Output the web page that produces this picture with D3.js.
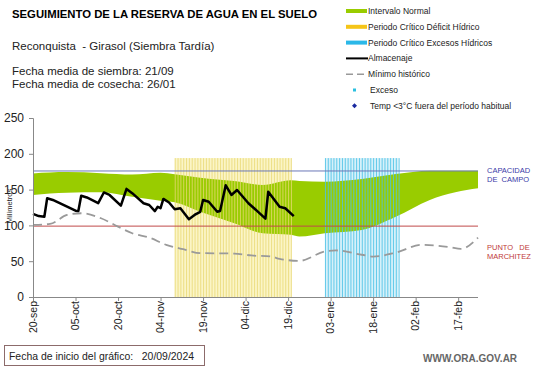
<!DOCTYPE html>
<html>
<head>
<meta charset="utf-8">
<script src="https://cdn.jsdelivr.net/npm/d3@7"></script>
<style>
  body { margin: 0; background: #fff; }
  svg { font-family: "Liberation Sans", Arial, sans-serif; }
  .axis path, .axis line { stroke: #888; }
  .axis text { fill: #222; }
</style>
</head>
<body>
<div id="chart"></div>
<script>
// --- Reserva de agua en el suelo: Reconquista, girasol tardío ---

const normalBand = [ // [fecha, mínimo normal, máximo normal]
  ['2024-09-20', 142.5, 172.6], ['2024-10-02', 145.7, 174.5], ['2024-10-14', 146.2, 173],
  ['2024-10-25', 140, 171], ['2024-11-04', 134.5, 173.5], ['2024-11-09', 132.3, 171.3],
  ['2024-11-18', 119, 166.6], ['2024-11-30', 103, 162], ['2024-12-10', 89, 156.4],
  ['2024-12-20', 87, 163], ['2024-12-23', 84.4, 162], ['2025-01-01', 89, 161],
  ['2025-01-14', 93.7, 164.8], ['2025-01-26', 112, 171.7], ['2025-02-07', 135.5, 176.3],
  ['2025-02-16', 146.2, 176.3], ['2025-02-24', 151.8, 176.3]
];

const minHistorico = [
  ['2024-09-20', 100.7], ['2024-09-26', 102], ['2024-10-02', 114.6], ['2024-10-07', 117],
  ['2024-10-14', 110], ['2024-10-20', 98.3], ['2024-10-25', 89], ['2024-10-31', 83],
  ['2024-11-06', 72.8], ['2024-11-12', 66.8], ['2024-11-18', 61.3], ['2024-11-30', 60.7],
  ['2024-12-06', 58], ['2024-12-13', 56.5], ['2024-12-16', 53.3], ['2024-12-23', 50.5],
  ['2025-01-01', 63.5], ['2025-01-05', 65], ['2025-01-14', 59], ['2025-01-18', 56.5],
  ['2025-01-26', 62], ['2025-02-04', 72.8], ['2025-02-14', 69.6], ['2025-02-18', 67.3],
  ['2025-02-24', 83]
];

const almacenaje = [
  ['2024-09-20', 116], ['2024-09-22', 113], ['2024-09-24', 112], ['2024-09-25', 138],
  ['2024-09-27', 135.5], ['2024-10-05', 120.5], ['2024-10-06', 120], ['2024-10-07', 141.5],
  ['2024-10-09', 139], ['2024-10-13', 131], ['2024-10-15', 146], ['2024-10-17', 142.5],
  ['2024-10-21', 127.6], ['2024-10-23', 151], ['2024-10-25', 145], ['2024-10-29', 131],
  ['2024-10-31', 128.5], ['2024-11-02', 120], ['2024-11-03', 126], ['2024-11-04', 124],
  ['2024-11-05', 137], ['2024-11-07', 132], ['2024-11-09', 122.6], ['2024-11-11', 124],
  ['2024-11-14', 108.6], ['2024-11-16', 114.6], ['2024-11-18', 119], ['2024-11-19', 135.5],
  ['2024-11-21', 133], ['2024-11-24', 119], ['2024-11-25', 120], ['2024-11-27', 156],
  ['2024-11-29', 142.5], ['2024-12-01', 149.4], ['2024-12-05', 131], ['2024-12-07', 124],
  ['2024-12-11', 109.5], ['2024-12-12', 147], ['2024-12-16', 126], ['2024-12-18', 124],
  ['2024-12-21', 113]
];

const capacidadCampo = 176;
const puntoMarchitez = 99;

const periodoDeficit = ['2024-11-09', '2024-12-20'];
const periodoExcesos = ['2025-01-01', '2025-01-27'];
const periodoTope = 194;

const dominio = ['2024-09-20', '2025-02-24'];
const yTicks = [0, 50, 100, 150, 200, 250];
const xTickDates = ['2024-09-20', '2024-10-05', '2024-10-20', '2024-11-04', '2024-11-19',
  '2024-12-04', '2024-12-19', '2025-01-03', '2025-01-18', '2025-02-02', '2025-02-17'];
const xTickLabels = ['20-sep', '05-oct', '20-oct', '04-nov', '19-nov', '04-dic', '19-dic',
  '03-ene', '18-ene', '02-feb', '17-feb'];

const legendItems = [
  { label: 'Intervalo Normal', kind: 'bar', color: '#99cc00' },
  { label: 'Periodo Crítico Déficit Hídrico', kind: 'bar', color: '#f5c518' },
  { label: 'Periodo Crítico Excesos Hídricos', kind: 'bar', color: '#2bb8e8' },
  { label: 'Almacenaje', kind: 'line', color: '#000' },
  { label: 'Mínimo histórico', kind: 'dash', color: '#999' },
  { label: 'Exceso', kind: 'dot', color: '#2bc0e0' },
  { label: 'Temp <3°C fuera del período habitual', kind: 'diamond', color: '#1a2aa0' }
];

const parse = d3.timeParse('%Y-%m-%d');
const W = 541, H = 368;

const svg = d3.select('#chart').append('svg')
  .attr('width', W).attr('height', H);

const xScale = d3.scaleTime().domain(dominio.map(parse)).range([33, 478]);
const yScale = d3.scaleLinear().domain([0, 250]).range([297, 118]);

// critical periods: pale fill behind, daily stripes drawn over the green band
function periodFill(range, fill) {
  const x0 = xScale(parse(range[0])), x1 = xScale(parse(range[1]));
  svg.append('rect')
    .attr('x', x0).attr('y', yScale(periodoTope))
    .attr('width', x1 - x0).attr('height', yScale(0) - yScale(periodoTope))
    .attr('fill', fill);
}
function periodStripes(range, line, opacity) {
  const start = parse(range[0]), end = parse(range[1]);
  const days = d3.timeDay.range(start, d3.timeDay.offset(end, 1));
  svg.append('g').selectAll('line').data(days).join('line')
    .attr('x1', d => xScale(d) + 0.5).attr('x2', d => xScale(d) + 0.5)
    .attr('y1', yScale(periodoTope)).attr('y2', yScale(0))
    .attr('stroke', line).attr('stroke-width', 1).attr('stroke-opacity', opacity);
}
periodFill(periodoDeficit, '#fbf5c6');
periodFill(periodoExcesos, '#d6f1fa');

// green normal interval
const area = d3.area()
  .x(d => xScale(parse(d[0])))
  .y0(d => yScale(d[1]))
  .y1(d => yScale(d[2]))
  .curve(d3.curveMonotoneX);

svg.append('path')
  .datum(normalBand)
  .attr('d', area)
  .attr('fill', '#99cc00');

periodStripes(periodoDeficit, '#e8d874', 0.8);
periodStripes(periodoExcesos, '#4cc2e6', 0.85);

// reference lines
svg.append('line')
  .attr('x1', 33).attr('x2', 478)
  .attr('y1', yScale(capacidadCampo)).attr('y2', yScale(capacidadCampo))
  .attr('stroke', '#6a78b8').attr('stroke-width', 1);
svg.append('line')
  .attr('x1', 33).attr('x2', 478)
  .attr('y1', yScale(puntoMarchitez)).attr('y2', yScale(puntoMarchitez))
  .attr('stroke', '#c04a4a').attr('stroke-width', 1);

// historical minimum
const lineMin = d3.line()
  .x(d => xScale(parse(d[0])))
  .y(d => yScale(d[1]))
  .curve(d3.curveMonotoneX);
svg.append('path')
  .datum(minHistorico)
  .attr('d', lineMin)
  .attr('fill', 'none')
  .attr('stroke', '#9a9a9a').attr('stroke-width', 1.8)
  .attr('stroke-dasharray', '9,5');

// storage
const lineAlm = d3.line()
  .x(d => xScale(parse(d[0])))
  .y(d => yScale(d[1]));
svg.append('path')
  .datum(almacenaje)
  .attr('d', lineAlm)
  .attr('fill', 'none')
  .attr('stroke', '#000').attr('stroke-width', 2.5)
  .attr('stroke-linejoin', 'round');

// axes
const yAxis = svg.append('g')
  .attr('class', 'axis')
  .attr('transform', 'translate(33,0)')
  .call(d3.axisLeft(yScale).tickValues(yTicks).tickSize(4).tickPadding(5));
yAxis.selectAll('text').attr('font-size', 12);

const xAxis = svg.append('g')
  .attr('class', 'axis')
  .attr('transform', 'translate(0,297)')
  .call(d3.axisBottom(xScale).tickValues(xTickDates.map(parse)).tickSize(4).tickFormat(''));
xAxis.select('.domain').attr('d', 'M33,0.5H478');

svg.append('g').selectAll('text')
  .data(xTickDates)
  .join('text')
  .attr('transform', d => `translate(${xScale(parse(d))},301) rotate(-90)`)
  .attr('dy', '0.35em')
  .attr('text-anchor', 'end')
  .attr('font-size', 10.5)
  .attr('fill', '#222')
  .text((d, i) => xTickLabels[i]);

svg.append('text')
  .attr('transform', 'translate(9,206) rotate(-90)')
  .attr('dy', '0.35em')
  .attr('text-anchor', 'middle')
  .attr('font-size', 7.5)
  .attr('fill', '#222')
  .text('Milímetros');

// right-hand labels
const rightLabels = [
  { lines: ['CAPACIDAD', 'DE  CAMPO'], y: 173, color: '#3a3aa8' },
  { lines: ['PUNTO   DE', 'MARCHITEZ'], y: 250, color: '#c03a3a' }
];
rightLabels.forEach(r => {
  r.lines.forEach((t, i) => {
    svg.append('text')
      .attr('x', 487).attr('y', r.y + i * 9)
      .attr('font-size', 7.5)
      .attr('fill', r.color)
      .style('white-space', 'pre')
      .text(t);
  });
});

// titles
svg.append('text')
  .attr('x', 12).attr('y', 18)
  .attr('font-size', 10.5).attr('font-weight', 'bold')
  .attr('textLength', 305).attr('lengthAdjust', 'spacingAndGlyphs')
  .text('SEGUIMIENTO DE LA RESERVA DE AGUA  EN EL SUELO');
svg.append('text')
  .attr('x', 12).attr('y', 50)
  .attr('font-size', 11.5).attr('fill', '#222')
  .style('white-space', 'pre')
  .text('Reconquista  - Girasol (Siembra Tardía)');
svg.append('text')
  .attr('x', 12).attr('y', 75)
  .attr('font-size', 11.5).attr('fill', '#222')
  .text('Fecha media de siembra: 21/09');
svg.append('text')
  .attr('x', 12).attr('y', 88)
  .attr('font-size', 11.5).attr('fill', '#222')
  .text('Fecha media de cosecha: 26/01');

// legend
const legend = svg.append('g');
legendItems.forEach((it, i) => {
  const y = 11 + i * 15.8;
  const g = legend.append('g').attr('transform', `translate(0,${y})`);
  if (it.kind === 'bar') {
    g.append('rect').attr('x', 346).attr('y', -2).attr('width', 21).attr('height', 4).attr('fill', it.color);
  } else if (it.kind === 'line') {
    g.append('line').attr('x1', 346).attr('x2', 368).attr('stroke', it.color).attr('stroke-width', 2);
  } else if (it.kind === 'dash') {
    g.append('line').attr('x1', 346).attr('x2', 368).attr('stroke', it.color)
      .attr('stroke-width', 1.5).attr('stroke-dasharray', '7,4');
  } else if (it.kind === 'dot') {
    g.append('rect').attr('x', 353).attr('y', -1.5).attr('width', 3).attr('height', 3).attr('fill', it.color);
  } else {
    g.append('path').attr('d', 'M354.5,-2.5L357,0L354.5,2.5L352,0Z').attr('fill', it.color);
  }
  g.append('text')
    .attr('x', it.kind === 'dot' || it.kind === 'diamond' ? 370 : 368)
    .attr('dy', '0.35em')
    .attr('font-size', 8.5)
    .attr('fill', '#222')
    .text(it.label);
});

// footer
svg.append('rect')
  .attr('x', 4.5).attr('y', 345.5).attr('width', 200).attr('height', 20)
  .attr('fill', '#fff').attr('stroke', '#8c6b6b');
svg.append('text')
  .attr('x', 9).attr('y', 360)
  .attr('font-size', 11).attr('fill', '#222')
  .attr('textLength', 185).attr('lengthAdjust', 'spacingAndGlyphs')
  .style('white-space', 'pre')
  .text('Fecha de inicio del gráfico:   20/09/2024');
svg.append('text')
  .attr('x', 423).attr('y', 362)
  .attr('font-size', 10).attr('font-weight', 'bold').attr('fill', '#666')
  .text('WWW.ORA.GOV.AR');
</script>
</body>
</html>
